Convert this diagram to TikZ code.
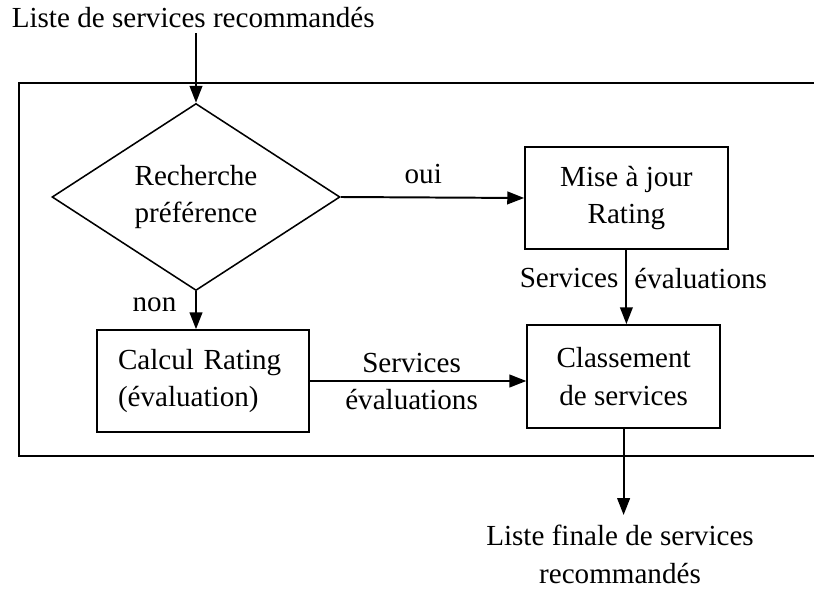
\documentclass[tikz,border=0pt]{standalone}
\usepackage{fontspec}
\setmainfont{Liberation Serif}
\usetikzlibrary{shapes.geometric,arrows.meta,positioning}

\begin{document}
\begin{tikzpicture}[
    font=\fontsize{20.7}{26.9}\selectfont,
    region/.style={rectangle, draw, line width=1.1pt, align=center, inner sep=0pt},
    choice/.style={diamond, draw, line width=1.1pt, align=center, inner sep=0pt, minimum width=7.2cm, minimum height=4.25cm},
    arrow/.style={-{Triangle[length=12pt,width=9pt]}, line width=1.4pt},
    note/.style={inner sep=5pt}
]
\useasboundingbox (0,0) rectangle (20.35,-14.725);

% Outer frame (open on the right)
\draw[line width=1.1pt] (20.35,-2.075) -- (0.475,-2.075) -- (0.475,-11.4) -- (20.35,-11.4);

% Input list
\node (input) at (4.83,-0.45) {Liste de services recommandés};

% Decision
\node[choice] (pref) at (4.9,-4.925) {Recherche\\préférence};

% Processing boxes
\node[region, minimum width=5.075cm, minimum height=2.55cm] (maj) at (15.66,-4.95) {Mise à jour\\Rating};
\node[region, minimum width=5.3cm, minimum height=2.55cm, text width=4.25cm, align=left, inner xsep=0.525cm] (calc) at (5.075,-9.525) {Calcul Rating\\(évaluation)};
\node[region, minimum width=4.825cm, minimum height=2.575cm] (rank) at (15.59,-9.41) {Classement\\de services};

% Output list
\node[align=center, inner ysep=2pt] (output) at (15.5,-13.86) {Liste finale de services\\recommandés};

% Arrows
\draw[arrow] (pref.north |- input.south) -- (pref.north);
\draw[arrow] (pref.east) -- node[above, pos=0.45, yshift=0.2cm] {oui} (maj.west);
\draw[arrow] (pref.south) -- node[left, pos=0.35, xshift=-0.35cm] {non} (pref.south |- calc.north);
\draw[arrow] (maj.south) -- node[note, left, pos=0.38] {Services} node[note, right, pos=0.38] {évaluations} (maj.south |- rank.north);
\draw[arrow] (calc.east) -- node[note, above, pos=0.47] {Services} node[note, below, pos=0.47] {évaluations} (calc.east -| rank.west);
\draw[arrow] ([yshift=0pt]rank.south) -- ([yshift=5pt]rank.south |- output.north);
\end{tikzpicture}
\end{document}
